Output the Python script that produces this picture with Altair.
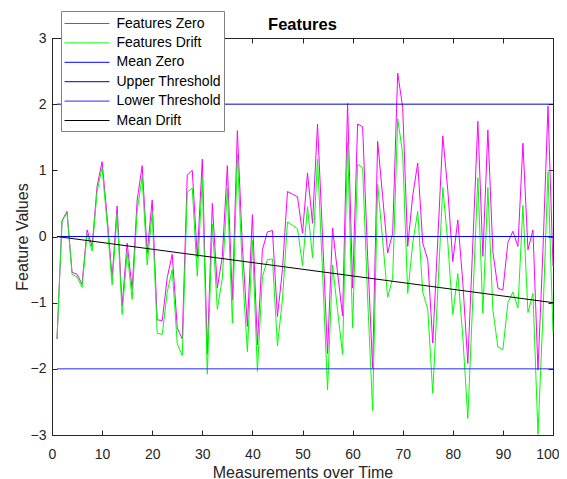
import altair as alt
import pandas as pd

x_vals = list(range(1, 101))

features_zero = [
    -1.55, 0.24, 0.38, -0.54, -0.57, -0.72, 0.10, -0.15, 0.76, 1.13,
    0.30, -0.62, 0.46, -1.05, -0.10, -0.80, 0.55, 1.07, -0.25, 0.55,
    -1.26, -1.27, -0.62, -0.27, -1.38, -1.55, 0.93, 1.00, -0.32, 1.17,
    -1.78, 0.50, -0.78, -0.30, 1.07, -0.96, 1.60, -0.15, -1.36, 0.33,
    -1.64, -0.20, 0.07, 0.09, -1.21, -0.50, 0.68, 0.64, 0.60, 0.05,
    0.96, 0.20, 1.70, 0.00, -1.77, 0.13, -0.55, -1.20, 2.01, -0.78,
    1.70, 1.66, -0.30, -1.99, 1.44, 0.60, -0.25, 0.05, 2.47, 1.95,
    -0.15, 0.62, 1.11, -0.10, -0.35, -1.61, -0.05, 1.52, 0.70, -0.38,
    0.25, -0.70, -1.92, -0.10, 1.74, -0.30, 1.61, -0.23, -0.78, -0.81,
    -0.09, 0.08, -0.15, 1.41, -0.20, 0.10, -2.02, -0.20, 1.97, -0.45,
]

features_drift = [
    -1.55, 0.23, 0.36, -0.57, -0.61, -0.77, 0.04, -0.22, 0.68, 1.04,
    0.20, -0.73, 0.34, -1.18, -0.24, -0.95, 0.39, 0.90, -0.43, 0.36,
    -1.46, -1.48, -0.84, -0.50, -1.62, -1.80, 0.67, 0.73, -0.60, 0.88,
    -2.08, 0.19, -1.10, -0.63, 0.73, -1.31, 1.24, -0.52, -1.74, -0.06,
    -2.04, -0.61, -0.35, -0.34, -1.65, -0.95, 0.22, 0.17, 0.12, -0.44,
    0.45, -0.32, 1.17, -0.54, -2.32, -0.43, -1.12, -1.78, 1.42, -1.38,
    1.09, 1.04, -0.93, -2.63, 0.79, -0.06, -0.92, -0.63, 1.78, 1.25,
    -0.86, -0.10, 0.38, -0.84, -1.10, -2.37, -0.82, 0.74, -0.09, -1.18,
    -0.56, -1.52, -2.75, -0.94, 0.89, -1.16, 0.74, -1.11, -1.67, -1.71,
    -1.00, -0.84, -1.08, 0.47, -1.15, -0.86, -2.99, -1.18, 0.98, -1.45,
]

ends_x = [1, 100]
mean_zero = [0, 0]
upper_threshold = [2, 2]
lower_threshold = [-2, -2]
mean_drift = [0, -1]

series_names = ["Features Zero", "Features Drift", "Mean Zero",
                "Upper Threshold", "Lower Threshold", "Mean Drift"]
series_colors = ["#FF00FF", "#00FF00", "#0000FF", "#0000C8", "#2A2AFF", "#000000"]

x_ticks = list(range(0, 101, 10))
y_ticks = list(range(-3, 4))

rows = []
for name, xs, ys in [
    ("Features Zero", x_vals, features_zero),
    ("Features Drift", x_vals, features_drift),
    ("Mean Zero", ends_x, mean_zero),
    ("Upper Threshold", ends_x, upper_threshold),
    ("Lower Threshold", ends_x, lower_threshold),
    ("Mean Drift", ends_x, mean_drift),
]:
    for xv, yv in zip(xs, ys):
        rows.append({"series": name, "x": xv, "y": yv})
df = pd.DataFrame(rows)

AX = "#262626"
FONT = "Liberation Sans"

x_scale = alt.Scale(domain=[0, 100], nice=False, zero=False)
y_scale = alt.Scale(domain=[-3, 3], nice=False, zero=False)

lines = alt.Chart(df).mark_line(strokeWidth=1).encode(
    x=alt.X("x:Q", scale=x_scale,
            axis=alt.Axis(values=x_ticks, title="Measurements over Time",
                          tickSize={"expr": "-5"}, labelPadding=17,
                          labelFlush=False, titlePadding=3,
                          labelAlign={"condition": {"test": "datum.value == 100",
                                                    "value": "right"},
                                      "value": "center"},
                          labelOffset={"condition": {"test": "datum.value == 100",
                                                     "value": 6},
                                       "value": 0})),
    y=alt.Y("y:Q", scale=y_scale,
            axis=alt.Axis(values=y_ticks, title="Feature Values",
                          tickSize={"expr": "-5"}, labelPadding=11,
                          titlePadding=0)),
    color=alt.Color("series:N",
                    scale=alt.Scale(domain=series_names, range=series_colors),
                    sort=series_names,
                    legend=alt.Legend(
                        title=None, orient="none", legendX=9, legendY=-27,
                        symbolType="M-2.5,0H2.5", symbolSize=324,
                        symbolStrokeWidth=1, symbolOffset=13.5,
                        labelOffset=20, labelFont=FONT, labelFontSize=14,
                        labelColor="#000000", rowPadding=2.4, padding=3,
                        strokeColor="#808080", fillColor="#FFFFFF",
                        labelLimit=300)),
    detail="series:N",
)

box = alt.Chart(pd.DataFrame({"x": ends_x, "y": mean_zero})).mark_line(
    strokeOpacity=0).encode(
    x=alt.X("x:Q", scale=x_scale,
            axis=alt.Axis(orient="top", values=x_ticks, labels=False, title=None,
                          domain=False, tickSize={"expr": "-5"})),
    y=alt.Y("y:Q", scale=y_scale,
            axis=alt.Axis(orient="right", values=y_ticks, labels=False, title=None,
                          domain=False, tickSize={"expr": "-5"})),
)

chart = alt.layer(lines, box).resolve_axis(
    x="independent", y="independent"
).properties(
    width=501, height=397,
    title=alt.TitleParams("Features", font=FONT, fontSize=16.5, fontWeight="bold",
                          color="#000000", anchor="middle", offset=5, dy=28),
    autosize=alt.AutoSizeParams(type="none"),
    padding={"left": 44, "top": 30, "right": 6, "bottom": 44},
).configure_view(
    stroke=AX, strokeWidth=1
).configure_axis(
    grid=False, domainColor=AX, tickColor=AX, labelColor=AX, titleColor=AX,
    labelFont=FONT, titleFont=FONT, labelFontSize=14, titleFontSize=16,
    titleFontWeight="normal", domainWidth=1, tickWidth=1,
)

chart.save("out.html", embed_options={"renderer": "svg", "actions": False})
